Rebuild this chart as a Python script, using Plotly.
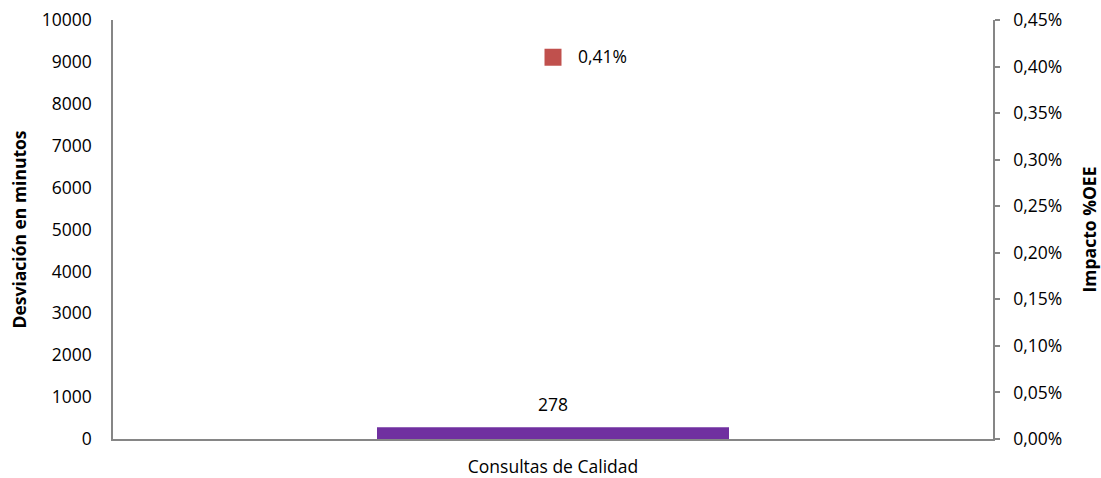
import plotly.graph_objects as go

categories = ["Consultas de Calidad"]
desviacion_min = [278]
impacto_oee = [0.0041]

left_ticks = list(range(0, 10001, 1000))
right_ticks = [i * 0.0005 for i in range(10)]

FONT = "Open Sans, Liberation Sans, Arial, sans-serif"
AXIS_GREY = "#868686"
FS = 17.5

fig = go.Figure()

fig.add_trace(go.Bar(
    x=categories, y=desviacion_min, width=0.4,
    marker=dict(color="#7030A0", line=dict(width=0)),
    yaxis="y", showlegend=False, hoverinfo="skip",
))

fig.add_trace(go.Scatter(
    x=categories, y=impacto_oee, mode="markers",
    marker=dict(symbol="square", size=17, color="#C0504D"),
    yaxis="y2", showlegend=False, hoverinfo="skip",
))

# value labels
for c, v in zip(categories, desviacion_min):
    fig.add_annotation(x=c, y=v, yref="y", text=f"{v}", showarrow=False,
                       yshift=23, font=dict(size=FS, color="#000000", family=FONT))
for c, v in zip(categories, impacto_oee):
    fig.add_annotation(x=c, y=v, yref="y2",
                       text=f"{v*100:.2f}%".replace(".", ","), showarrow=False,
                       xanchor="left", xshift=23, yshift=1,
                       font=dict(size=FS, color="#000000", family=FONT))

fig.update_layout(
    width=1101, height=478,
    margin=dict(l=113, r=108, t=20, b=39),
    paper_bgcolor="white", plot_bgcolor="white",
    separators=",.",
    font=dict(family=FONT, size=FS, color="#000000"),
    xaxis=dict(
        type="category", range=[-0.5, 0.5], automargin=False,
        showline=True, linecolor=AXIS_GREY, linewidth=1.5,
        showgrid=False, ticks="", ticklabelstandoff=11,
        tickfont=dict(size=FS),
    ),
    yaxis=dict(
        range=[0, 10000], tickvals=left_ticks, tickformat="d", automargin=False,
        showline=True, linecolor=AXIS_GREY, linewidth=1.5,
        showgrid=False, zeroline=False, ticks="",
        ticklabelstandoff=16, tickfont=dict(size=FS),
        title=dict(text="<b>Desviación en minutos</b>", font=dict(size=FS), standoff=11),
    ),
    yaxis2=dict(
        overlaying="y", side="right", automargin=False,
        range=[0, 0.0045], tickvals=right_ticks, tickformat=".2%",
        showline=True, linecolor=AXIS_GREY, linewidth=1.5,
        showgrid=False, zeroline=False,
        ticks="outside", ticklen=5, tickcolor=AXIS_GREY, tickwidth=1.5,
        ticklabelstandoff=10, tickfont=dict(size=FS),
        title=dict(text="<b>Impacto %OEE</b>", font=dict(size=FS), standoff=22),
    ),
)

fig.write_html("out.html")
